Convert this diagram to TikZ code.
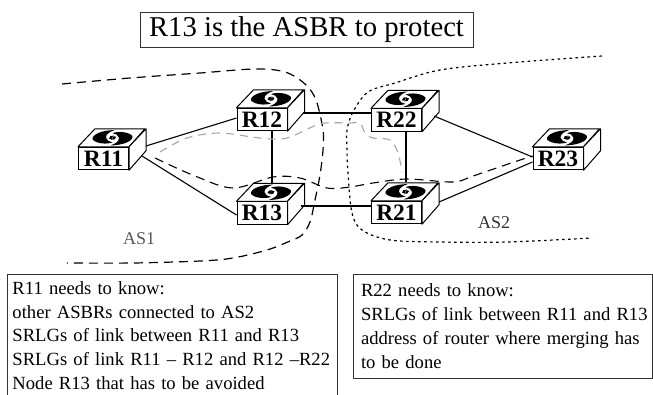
\documentclass[tikz,border=0pt]{standalone}
\usepackage{fontspec}
\setmainfont{Liberation Serif}
\usetikzlibrary{calc}
\tikzset{
  router/.style={draw,fill=white,line width=1pt,minimum width=50pt,minimum height=22.5pt,inner sep=0pt,
    font=\fontsize{23.5}{24}\selectfont\bfseries},
  routerface/.style={draw,fill=white,line width=1pt,line join=round},
  link/.style={draw,line width=1.1pt},
  swirl/.style={fill=black,draw=none},
  infobox/.style={draw=black!80,line width=1pt,anchor=north west,align=left,inner xsep=5.5pt},
  aslabel/.style={anchor=base west,inner sep=0pt,font=\fontsize{18}{20}\selectfont},
  as1edge/.style={line width=1.2pt,dash pattern=on 9pt off 6pt},
  as2edge/.style={line width=1.2pt,dash pattern=on 2.6pt off 3.4pt},
  pathblack/.style={line width=1.1pt,dash pattern=on 9pt off 6pt},
  pathgray/.style={line width=1.1pt,color=black!35,dash pattern=on 8pt off 6pt},
  logo/.pic={
    \begin{scope}[yscale=0.85]
    \fill[swirl] (-20,2) .. controls (-21,-4) and (-10,-9) .. (2,-9)
       .. controls (-3,-7) and (-7,-4) .. (-6.5,0) .. controls (-6,3) and (-3,5) .. (0,5.5)
       .. controls (-6,8) and (-16,7) .. (-20,2) -- cycle;
    \fill[swirl] (20,-2) .. controls (21,4) and (10,9) .. (-2,9)
       .. controls (3,7) and (7,4) .. (6.5,0) .. controls (6,-3) and (3,-5) .. (0,-5.5)
       .. controls (6,-8) and (16,-7) .. (20,-2) -- cycle;
    \fill[swirl] (-3.5,1) .. controls (-4,-1.5) and (-1,-3) .. (1.5,-2.5) .. controls (-0.5,-1.5) and (-1,0) .. (0,1) .. controls (-1,2) and (-3,2) .. (-3.5,1) -- cycle;
    \fill[swirl] (3.5,-1) .. controls (4,1.5) and (1,3) .. (-1.5,2.5) .. controls (0.5,1.5) and (1,0) .. (0,-1) .. controls (1,-2) and (3,-2) .. (3.5,-1) -- cycle;
    \end{scope}
  },
}
\begin{document}
\begin{tikzpicture}[x=1pt,y=-1pt]
\useasboundingbox (0,0) rectangle (653,394);
\clip (0,0) rectangle (653,394);
\fill[white] (0,0) rectangle (653,394);

% routers (front faces)
\node[router] (R11) at (103.5,158.5) {R11};
\node[router] (R12) at (262,119.5) {R12};
\node[router] (R13) at (262,213) {R13};
\node[router] (R22) at (396.5,120) {R22};
\node[router] (R21) at (396.5,212.5) {R21};
\node[router] (R23) at (558,158.5) {R23};

% top and side faces
\foreach \n in {R11,R12,R13,R22,R21,R23}{
  \draw[routerface] (\n.north west) -- ++(17,-18) -- ++(50,0) -- (\n.north east) -- cycle;
  \draw[routerface] (\n.north east) -- ++(17,-18) -- ++(0,22) -- (\n.south east) -- cycle;
  \path ([shift={(9,-9)}]\n.north) pic {logo};
}

% links
\draw[link] ([shift={(17,-12.5)}]R11.east) -- ([yshift=1.5pt]R12.west);
\draw[link] ([shift={(13,-2.5)}]R11.east) -- ([yshift=-2pt]R13.west);
\draw[link] ([xshift=10pt]R12.south) -- ([shift={(10,-18.5)}]R13.north);
\draw[link] ([shift={(15,-6.5)}]R12.east) -- ([shift={(0,-7)}]R22.west);
\draw[link] ([shift={(13,-7)}]R13.east) -- ([shift={(0,-6.5)}]R21.west);
\draw[link] ([xshift=9.5pt]R22.south) -- ([shift={(9.5,-18.5)}]R21.north);
\draw[link] ([shift={(12,-4)}]R22.east) -- ([shift={(0,-1.5)}]R23.west);
\draw[link] ([shift={(17,-10.5)}]R21.east) -- ([shift={(0,3.5)}]R23.west);

% AS boundaries
\draw[as1edge] plot[smooth,tension=0.55] coordinates {(62,84) (130,78) (200,73) (255,69) (285,72) (305,84) (316,100) (323,130) (323,150) (320,175) (315,200) (310,222) (302,235) (290,241) (267,250) (233,258) (200,261) (133,263) (67,263)};
\draw[as2edge] plot[smooth,tension=0.55] coordinates {(602,56) (507,63) (440,70) (395,83) (368,92) (353,112) (347,130) (347,150) (348,173) (352,213) (362,230) (390,240) (440,242) (507,242) (592,238)};

% protection paths
\draw[pathblack] plot[smooth,tension=0.55] coordinates {(155,158) (195,176) (233,188) (273,177) (300,178) (327,188) (350,187) (373,183) (407,179) (453,182) (473,176) (517,161) (533,156)};
\draw[pathgray] plot[smooth,tension=0.55] coordinates {(160,152) (187,138) (220,133) (260,138) (287,138) (320,124) (350,123) (360,123) (365,133) (373,138) (390,140) (398,153) (402,172)};

% labels
\node[draw=black!80,line width=1pt,minimum width=333pt,minimum height=35pt,inner sep=0pt,font=\fontsize{28.7}{32}\selectfont] (title) at (306.5,29.5) {R13 is the ASBR to protect};
\node[aslabel,text=black!65] (as1) at (123,244) {AS1};
\node[aslabel,text=black!80] (as2) at (478,228) {AS2};

\node[infobox,inner ysep=7pt,text width=319pt,font=\fontsize{18.6}{23.75}\selectfont] (box1) at (6.5,274) {R11 needs to know:\\
other ASBRs connected to AS2\\
SRLGs of link between R11 and R13\\
SRLGs of link R11 -- R12 and R12 --R22\\
Node R13 that has to be avoided};
\node[infobox,inner ysep=9.5pt,inner xsep=7.5pt,text width=284pt,font=\fontsize{18.6}{24}\selectfont] (box2) at (353,274) {R22 needs to know:\\
\mbox{SRLGs of link between R11 and R13}\\
\mbox{address of router where merging has}\\
to be done};
\end{tikzpicture}
\end{document}
